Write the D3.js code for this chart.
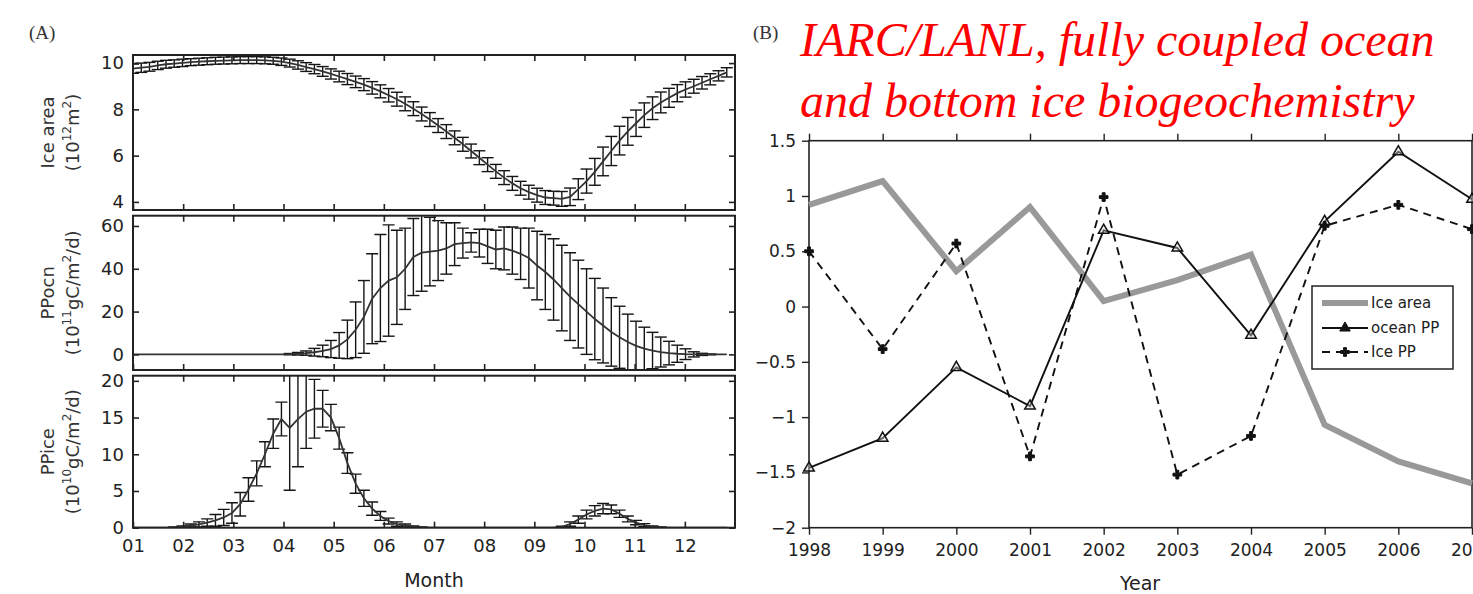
<html>
<head>
<meta charset="utf-8">
<style>
  body { margin: 0; background: #fff; }
  svg { display: block; font-family: "DejaVu Sans", sans-serif; }
</style>
<script src="https://d3js.org/d3.v7.min.js"></script>
</head>
<body>
<svg id="chart"></svg>
<script>

// ---- panel A: 5-day climatology, Jan 1 .. Dec 27
const sampleDays = d3.range(0, 361, 5)
const monthLabels = ["01","02","03","04","05","06","07","08","09","10","11","12"]

const iceAreaMean = [
  9.76, 9.80, 9.84, 9.90, 9.95, 9.98, 10.01, 10.04, 10.06, 10.08,
  10.10, 10.11, 10.12, 10.13, 10.13, 10.13, 10.12, 10.10, 10.06, 10.00,
  9.92, 9.83, 9.74, 9.64, 9.53, 9.42, 9.31, 9.19, 9.07, 8.93,
  8.78, 8.61, 8.44, 8.24, 8.03, 7.80, 7.56, 7.30, 7.04, 6.77,
  6.49, 6.20, 5.91, 5.61, 5.32, 5.05, 4.80, 4.59, 4.42, 4.29,
  4.19, 4.16, 4.13, 4.22, 4.55, 4.90, 5.30, 5.75, 6.20, 6.65,
  7.05, 7.40, 7.75, 8.05, 8.30, 8.50, 8.70, 8.86, 9.00, 9.15,
  9.30, 9.45, 9.60
]
const iceAreaSd = [
  0.20, 0.20, 0.19, 0.18, 0.17, 0.16, 0.16, 0.15, 0.15, 0.15,
  0.15, 0.15, 0.15, 0.15, 0.15, 0.15, 0.15, 0.15, 0.16, 0.17,
  0.18, 0.19, 0.20, 0.21, 0.22, 0.23, 0.24, 0.25, 0.26, 0.27,
  0.28, 0.29, 0.30, 0.30, 0.30, 0.30, 0.30, 0.30, 0.30, 0.30,
  0.30, 0.30, 0.30, 0.30, 0.30, 0.30, 0.30, 0.30, 0.30, 0.30,
  0.30, 0.30, 0.32, 0.38, 0.45, 0.52, 0.58, 0.62, 0.63, 0.62,
  0.60, 0.57, 0.53, 0.49, 0.45, 0.41, 0.37, 0.33, 0.30, 0.27,
  0.24, 0.22, 0.20
]
const ppOcnMean = [
  0, 0, 0, 0, 0, 0, 0, 0, 0, 0,
  0, 0, 0, 0, 0, 0, 0, 0, 0, 0.1,
  0.3, 0.6, 1.0, 1.6, 2.5, 4.2, 7.0, 11.5, 17.5, 26.0,
  31.0, 34.5, 36.0, 40.0, 45.5, 47.5, 48.0, 48.5, 49.5, 51.5,
  52.0, 52.3, 52.0, 50.5, 49.0, 49.5, 48.5, 47.0, 45.0, 41.5,
  38.5, 35.0, 31.0, 27.0, 23.5, 20.0, 16.5, 13.5, 10.5, 8.0,
  5.8, 4.0, 2.7, 1.8, 1.1, 0.6, 0.3, 0.1, 0, 0,
  0, 0, 0
]
const ppOcnSd = [
  0, 0, 0, 0, 0, 0, 0, 0, 0, 0,
  0, 0, 0, 0, 0, 0, 0, 0, 0, 0.3,
  0.6, 1.0, 1.8, 2.7, 4.0, 6.0, 9.0, 13.0, 17.0, 21.0,
  25.0, 26.0, 22.0, 19.0, 18.0, 18.0, 16.0, 14.0, 12.0, 10.0,
  7.0, 4.5, 6.5, 8.0, 9.0, 10.0, 11.0, 12.0, 14.0, 16.0,
  17.5, 19.0, 20.0, 20.5, 20.5, 20.0, 19.0, 17.5, 16.0, 14.5,
  13.0, 11.5, 10.0, 8.5, 7.0, 5.5, 4.0, 2.5, 1.2, 0.5,
  0.2, 0, 0
]
const ppIceMean = [
  0, 0, 0, 0, 0, 0.05, 0.15, 0.3, 0.45, 0.7,
  1.0, 1.4, 2.0, 3.2, 5.2, 7.4, 10.0, 12.8, 14.8, 13.6,
  14.8, 15.8, 16.2, 16.2, 15.0, 12.2, 8.8, 6.0, 4.0, 2.6,
  1.6, 0.9, 0.5, 0.3, 0.15, 0.05, 0, 0, 0, 0,
  0, 0, 0, 0, 0, 0, 0, 0, 0, 0,
  0, 0, 0.1, 0.5, 1.1, 1.8, 2.3, 2.6, 2.5, 1.9,
  1.2, 0.7, 0.35, 0.15, 0.05, 0, 0, 0, 0, 0,
  0, 0, 0
]
const ppIceSd = [
  0, 0, 0, 0, 0, 0.05, 0.1, 0.2, 0.35, 0.5,
  0.8, 1.1, 1.4, 1.6, 1.6, 1.7, 1.7, 2.0, 2.3, 8.5,
  6.5, 5.0, 4.0, 2.5, 1.8, 1.5, 1.4, 1.3, 1.1, 0.9,
  0.6, 0.4, 0.3, 0.2, 0.1, 0.05, 0, 0, 0, 0,
  0, 0, 0, 0, 0, 0, 0, 0, 0, 0,
  0, 0, 0.1, 0.3, 0.5, 0.6, 0.7, 0.7, 0.6, 0.5,
  0.4, 0.3, 0.2, 0.1, 0.05, 0, 0, 0, 0, 0,
  0, 0, 0
]

// ---- panel B: yearly anomalies
const years = [1998, 1999, 2000, 2001, 2002, 2003, 2004, 2005, 2006, 2007]
const iceAreaAnom = [0.92, 1.135, 0.32, 0.90, 0.05, 0.24, 0.47, -1.07, -1.40, -1.60]
const oceanPPAnom = [-1.46, -1.19, -0.55, -0.90, 0.69, 0.53, -0.26, 0.77, 1.40, 0.97]
const icePPAnom = [0.50, -0.385, 0.57, -1.355, 0.99, -1.52, -1.17, 0.73, 0.92, 0.70]
const yearTicks = [-2, -1.5, -1, -0.5, 0, 0.5, 1, 1.5]

const svg = d3.select("#chart").attr("width", 1473).attr("height", 594)
svg.append("rect").attr("width", 1473).attr("height", 594).attr("fill", "#fff")

// ================= panel A =================
const xMonth = d3.scaleLinear().domain([1, 13]).range([133, 735])
const dayToMonth = d => 1 + d / 365 * 12

const panels = [
  {top: 55, bottom: 210, domain: [3.65, 10.35], ticks: [4, 6, 8, 10],
   mean: iceAreaMean, sd: iceAreaSd, name: "Ice area",
   unit: [["(10", 0], ["12", 1], ["m", 0], ["2", 1], [")", 0]]},
  {top: 215.7, bottom: 370, domain: [-7.3, 64.8], ticks: [0, 20, 40, 60],
   mean: ppOcnMean, sd: ppOcnSd, name: "PPocn",
   unit: [["(10", 0], ["11", 1], ["gC/m", 0], ["2", 1], ["/d)", 0]]},
  {top: 375.7, bottom: 527.7, domain: [0, 20.7], ticks: [0, 5, 10, 15, 20],
   mean: ppIceMean, sd: ppIceSd, name: "PPice",
   unit: [["(10", 0], ["10", 1], ["gC/m", 0], ["2", 1], ["/d)", 0]]}
]

function addUnitLabel(g, x, y, parts) {
  let t = g.append("text")
    .attr("transform", `translate(${x},${y}) rotate(-90)`)
    .attr("text-anchor", "middle")
    .attr("font-size", 18)
    .attr("fill", "#333")
  let prevSup = 0
  parts.forEach(([s, sup]) => {
    let dy = sup && !prevSup ? -8 : (!sup && prevSup ? 8 : 0)
    t.append("tspan").attr("dy", dy).attr("font-size", sup ? 12 : 18).text(s)
    prevSup = sup
  })
}

panels.forEach((p, i) => {
  let y = d3.scaleLinear().domain(p.domain).range([p.bottom, p.top])
  let g = svg.append("g")
  let clipId = "clipA" + i
  svg.append("clipPath").attr("id", clipId)
    .append("rect").attr("x", 133).attr("y", p.top)
    .attr("width", 602).attr("height", p.bottom - p.top)

  let plot = g.append("g").attr("clip-path", `url(#${clipId})`)

  // error bars
  let bars = sampleDays.map((d, k) => ({x: xMonth(dayToMonth(d)), m: p.mean[k], s: p.sd[k]}))
    .filter(b => b.s > 0)
  let eb = plot.append("g").attr("stroke", "#151515").attr("stroke-width", 1.4)
  eb.selectAll(".v").data(bars).enter().append("line")
    .attr("x1", b => b.x).attr("x2", b => b.x)
    .attr("y1", b => y(b.m - b.s)).attr("y2", b => y(b.m + b.s))
  eb.selectAll(".ct").data(bars).enter().append("line")
    .attr("x1", b => b.x - 6).attr("x2", b => b.x + 6)
    .attr("y1", b => y(b.m + b.s)).attr("y2", b => y(b.m + b.s))
  eb.selectAll(".cb").data(bars).enter().append("line")
    .attr("x1", b => b.x - 6).attr("x2", b => b.x + 6)
    .attr("y1", b => y(b.m - b.s)).attr("y2", b => y(b.m - b.s))

  // mean curve
  let line = d3.line()
    .x((d, k) => xMonth(dayToMonth(d)))
    .y((d, k) => y(p.mean[k]))
  plot.append("path").datum(sampleDays)
    .attr("d", line)
    .attr("fill", "none").attr("stroke", "#333").attr("stroke-width", 1.8)

  // axes with inward ticks
  let left = g.append("g").attr("transform", "translate(133,0)")
    .call(d3.axisLeft(y).tickValues(p.ticks).tickSize(-6).tickSizeOuter(0).tickPadding(9)
      .tickFormat(d3.format("d")))
  left.selectAll("text").attr("font-size", 18).attr("fill", "#222").attr("font-family", "DejaVu Sans")
  g.append("g").attr("transform", "translate(735,0)")
    .call(d3.axisRight(y).tickValues(p.ticks).tickSize(-6).tickSizeOuter(0).tickFormat(""))
  g.append("g").attr("transform", `translate(0,${p.top})`)
    .call(d3.axisTop(xMonth).tickValues(d3.range(2, 13)).tickSize(-6).tickSizeOuter(0).tickFormat(""))
  let bottom = g.append("g").attr("transform", `translate(0,${p.bottom})`)
    .call(d3.axisBottom(xMonth).tickValues(d3.range(1, 13)).tickSize(-6).tickSizeOuter(0)
      .tickPadding(12).tickFormat(i == 2 ? (d => monthLabels[d - 1]) : ""))
  bottom.selectAll("text").attr("font-size", 18).attr("fill", "#222").attr("font-family", "DejaVu Sans")
  g.selectAll(".domain").remove()
  g.selectAll(".tick line").attr("stroke", "#222").attr("stroke-width", 1.6)

  g.append("rect").attr("x", 133).attr("y", p.top)
    .attr("width", 602).attr("height", p.bottom - p.top)
    .attr("fill", "none").attr("stroke", "#222").attr("stroke-width", 2)

  let cy = (p.top + p.bottom) / 2
  g.append("text").attr("transform", `translate(54,${cy}) rotate(-90)`)
    .attr("text-anchor", "middle").attr("font-size", 18).attr("fill", "#333")
    .text(p.name)
  addUnitLabel(g, 79, cy, p.unit)
})

svg.append("text").attr("x", 434).attr("y", 587).attr("text-anchor", "middle")
  .attr("font-size", 19).attr("fill", "#222").text("Month")
svg.append("text").attr("x", 29).attr("y", 39)
  .attr("font-family", "Liberation Serif").attr("font-size", 19).attr("fill", "#333").text("(A)")

// ================= panel B =================
const xYear = d3.scaleLinear().domain([1998, 2007]).range([809, 1472])
const yB = d3.scaleLinear().domain([-2, 1.5]).range([527.7, 140.7])

const gB = svg.append("g")
let lb = gB.append("g").attr("transform", "translate(809,0)")
  .call(d3.axisLeft(yB).tickValues(yearTicks).tickSize(7).tickSizeOuter(0).tickPadding(6)
    .tickFormat(d3.format("")))
lb.selectAll("text").attr("font-size", 17).attr("fill", "#222").attr("font-family", "DejaVu Sans")
let bb = gB.append("g").attr("transform", "translate(0,527.7)")
  .call(d3.axisBottom(xYear).tickValues(years).tickSize(7).tickSizeOuter(0).tickPadding(9)
    .tickFormat(d3.format("d")))
bb.selectAll("text").attr("font-size", 17).attr("fill", "#222").attr("font-family", "DejaVu Sans")
gB.append("g").attr("transform", "translate(0,140.7)")
  .call(d3.axisTop(xYear).tickValues(years).tickSize(7).tickSizeOuter(0).tickFormat(""))
gB.selectAll(".domain").remove()
gB.selectAll(".tick line").attr("stroke", "#222").attr("stroke-width", 1.4)
gB.append("rect").attr("x", 809).attr("y", 140.7).attr("width", 663).attr("height", 387)
  .attr("fill", "none").attr("stroke", "#222").attr("stroke-width", 1.6)

const lineB = d3.line().x((d, k) => xYear(years[k])).y(d => yB(d))

gB.append("path").datum(iceAreaAnom).attr("d", lineB)
  .attr("fill", "none").attr("stroke", "#999").attr("stroke-width", 6)
  .attr("stroke-linejoin", "miter")
gB.append("path").datum(icePPAnom).attr("d", lineB)
  .attr("fill", "none").attr("stroke", "#111").attr("stroke-width", 1.9)
  .attr("stroke-dasharray", "8,6")
gB.append("path").datum(oceanPPAnom).attr("d", lineB)
  .attr("fill", "none").attr("stroke", "#111").attr("stroke-width", 1.9)

const tri = d3.symbol(d3.symbolTriangle, 48)
const cross = d3.symbol(d3.symbolCross, 42)
gB.selectAll(".tri").data(oceanPPAnom).enter().append("path")
  .attr("d", tri).attr("transform", (d, k) => `translate(${xYear(years[k])},${yB(d)})`)
  .attr("fill", "#ddd").attr("fill-opacity", 0.4).attr("stroke", "#111").attr("stroke-width", 1.5)
gB.selectAll(".crs").data(icePPAnom).enter().append("path")
  .attr("d", cross).attr("transform", (d, k) => `translate(${xYear(years[k])},${yB(d)})`)
  .attr("fill", "#111").attr("stroke", "#111").attr("stroke-width", 1)

// legend
const leg = gB.append("g")
leg.append("rect").attr("x", 1312).attr("y", 286).attr("width", 141).attr("height", 83)
  .attr("fill", "#fff").attr("stroke", "#222").attr("stroke-width", 1.5)
const legItems = [
  {label: "Ice area", y: 303, color: "#999", width: 6, dash: null, mark: null},
  {label: "ocean PP", y: 328, color: "#111", width: 1.9, dash: null, mark: tri},
  {label: "Ice PP", y: 352, color: "#111", width: 1.9, dash: "8,6", mark: cross}
]
legItems.forEach(it => {
  leg.append("line").attr("x1", 1322).attr("x2", 1368).attr("y1", it.y).attr("y2", it.y)
    .attr("stroke", it.color).attr("stroke-width", it.width)
    .attr("stroke-dasharray", it.dash)
  if (it.mark) {
    leg.append("path").attr("d", it.mark).attr("transform", `translate(1345,${it.y})`)
      .attr("fill", "#111").attr("stroke", "#111").attr("stroke-width", 1)
  }
  leg.append("text").attr("x", 1371).attr("y", it.y).attr("dy", "0.36em")
    .attr("font-size", 15).attr("fill", "#222").text(it.label)
})

svg.append("text").attr("x", 1140).attr("y", 590).attr("text-anchor", "middle")
  .attr("font-size", 19).attr("fill", "#222").text("Year")
svg.append("text").attr("x", 753).attr("y", 39)
  .attr("font-family", "Liberation Serif").attr("font-size", 19).attr("fill", "#333").text("(B)")

const title = svg.append("g").attr("font-family", "Liberation Serif")
  .attr("font-style", "italic").attr("font-size", 48).attr("fill", "#ff0000")
title.append("text").attr("x", 800).attr("y", 56).text("IARC/LANL, fully coupled ocean")
title.append("text").attr("x", 800).attr("y", 117).text("and bottom ice biogeochemistry")

</script>
</body>
</html>
